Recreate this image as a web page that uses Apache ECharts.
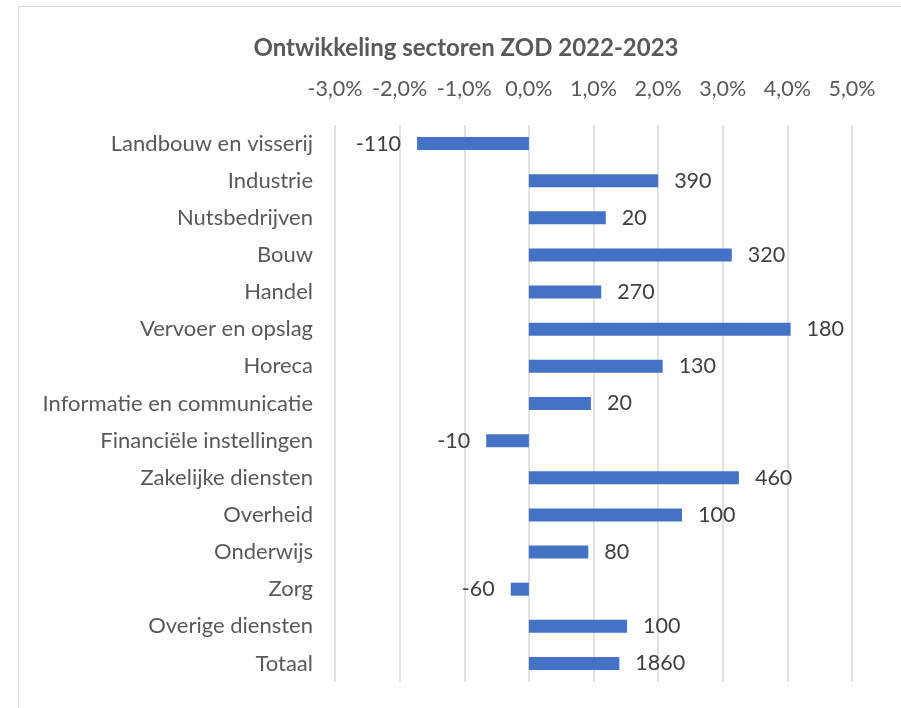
<!DOCTYPE html>
<html>
<head>
<meta charset="utf-8">
<script src="https://cdn.jsdelivr.net/npm/echarts@6/dist/echarts.min.js"></script>
<style>
html,body{margin:0;padding:0;background:#fff;}
#chart{width:901px;height:708px;}
</style>
</head>
<body>
<div id="chart"></div>
<script>
const categories = [
  'Landbouw en visserij','Industrie','Nutsbedrijven','Bouw','Handel',
  'Vervoer en opslag','Horeca','Informatie en communicatie','Financiële instellingen',
  'Zakelijke diensten','Overheid','Onderwijs','Zorg','Overige diensten','Totaal'
];
const growthPct = [-1.73, 2.00, 1.19, 3.14, 1.12, 4.05, 2.07, 0.96, -0.66, 3.25, 2.37, 0.92, -0.28, 1.52, 1.40];
const jobLabels = [-110, 390, 20, 320, 270, 180, 130, 20, -10, 460, 100, 80, -60, 100, 1860];
const xTicks = {min: -3, max: 5, step: 1};

const FONT = 'Lato, "Open Sans", sans-serif';
const chart = echarts.init(document.getElementById('chart'), null, {renderer: 'canvas'});

const data = growthPct.map((v, i) => ({
  value: v,
  label: {position: v < 0 ? 'left' : 'right'}
}));

chart.setOption({
  animation: false,
  backgroundColor: '#fff',
  title: {
    text: 'Ontwikkeling sectoren ZOD 2022-2023',
    left: 461, top: 31, textAlign: 'center',
    textStyle: {fontFamily: FONT, fontSize: 24, fontWeight: 'bold', color: '#595959'}
  },
  graphic: [{
    type: 'rect', shape: {x: 18.5, y: 6.5, width: 1000, height: 1000},
    style: {fill: 'none', stroke: '#d9d9d9', lineWidth: 1}, silent: true
  }],
  grid: {left: 335, right: 49, top: 125, bottom: 26, containLabel: false},
  xAxis: {
    type: 'value', position: 'top',
    min: xTicks.min, max: xTicks.max, interval: xTicks.step,
    axisLine: {show: false}, axisTick: {show: false},
    splitLine: {show: true, lineStyle: {color: '#d9d9d9', width: 1.5}},
    axisLabel: {
      margin: 25, color: '#595959', fontFamily: FONT, fontSize: 21.5,
      formatter: v => v.toFixed(1).replace('.', ',') + '%'
    }
  },
  yAxis: {
    type: 'category', data: categories, inverse: true,
    axisLine: {show: false}, axisTick: {show: false},
    axisLabel: {margin: 22, color: '#595959', fontFamily: FONT, fontSize: 22}
  },
  series: [{
    type: 'bar', data: data, barWidth: 13,
    itemStyle: {color: '#4472C4'},
    label: {
      show: true, distance: 16, color: '#404040', fontFamily: FONT, fontSize: 21.5,
      formatter: p => String(jobLabels[p.dataIndex])
    }
  }]
});
</script>
</body>
</html>
